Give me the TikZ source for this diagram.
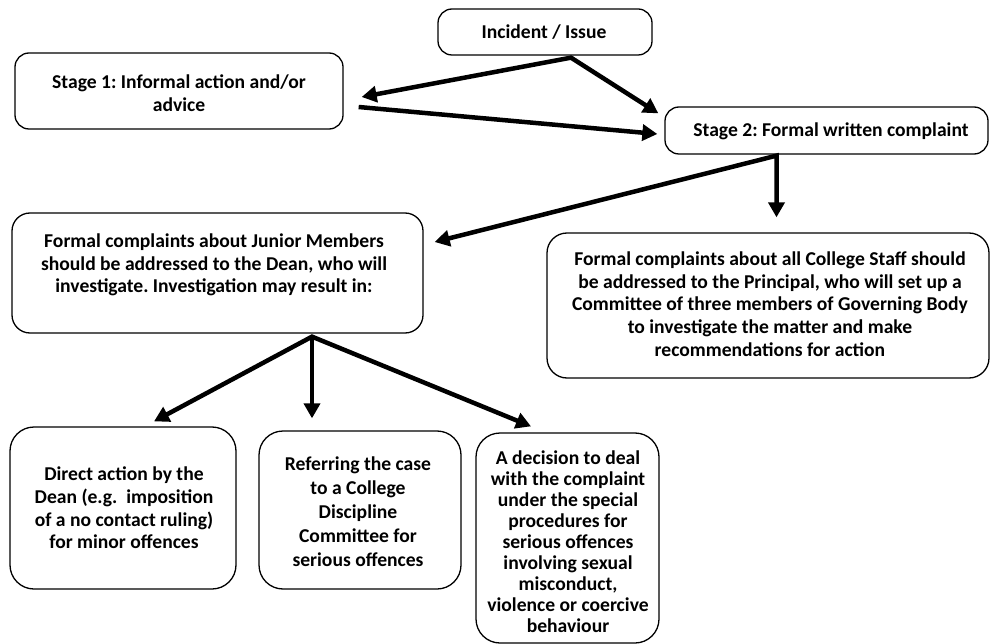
\documentclass[tikz,border=0pt]{standalone}
\usepackage{fontspec}
\setmainfont{Carlito}
\frenchspacing
\usetikzlibrary{arrows.meta,calc}
\begin{document}
\begin{tikzpicture}[x=1pt,y=-1pt,
  box/.style={draw, line width=1.3pt, rounded corners=14pt, inner sep=0pt},
  bbox/.style={box, rounded corners=24pt},
  txt/.style={font=\bfseries\fontsize{19.6}{22.7}\selectfont, align=center, inner sep=0pt},
  tipx/.tip={Triangle[length=15pt,width=16pt]},
  arr/.style={line width=4.5pt, -tipx},
  darr/.style={line width=4.5pt, tipx-tipx}]
\useasboundingbox (0,0) rectangle (990,644);
% boxes
\node[box, minimum width=214pt, minimum height=46pt] (inc) at (545,32) {};
\node[box, minimum width=328pt, minimum height=76pt] (s1) at (179,91) {};
\node[box, minimum width=323pt, minimum height=47pt] (s2) at (826.5,130.5) {};
\node[box, rounded corners=18pt, minimum width=411pt, minimum height=120pt] (jun) at (217.5,273) {};
\node[box, rounded corners=20pt, minimum width=442pt, minimum height=145pt] (staff) at (768,305.5) {};
\node[bbox, minimum width=226pt, minimum height=162pt] (direct) at (123,508) {};
\node[bbox, minimum width=202pt, minimum height=158pt] (refer) at (360,510) {};
\node[bbox, minimum width=183pt, minimum height=210pt] (decision) at (567.5,538) {};
% texts
\node[txt] (incT) at (544,32) {Incident / Issue};
\node[txt] (s1T) at (179,93) {Stage 1: Informal action and/or\\advice};
\node[txt] (s2T) at (831,131) {Stage 2: Formal written complaint};
\node[txt] (junT) at (214,265) {Formal complaints about Junior Members\\should be addressed to the Dean, who will\\investigate. Investigation may result in:};
\node[txt] (staffT) at (770,304) {Formal complaints about all College Staff should\\be addressed to the Principal, who will set up a\\Committee of three members of Governing Body\\to investigate the matter and make\\recommendations for action};
\node[txt] (directT) at (124,508) {Direct action by the\\Dean (e.g.\ \ imposition\\of a no contact ruling)\\for minor offences};
\node[txt, font=\bfseries\fontsize{19.6}{24}\selectfont] (referT) at (358,512) {Referring the case\\to a College\\Discipline\\Committee for\\serious offences};
\node[txt, font=\bfseries\fontsize{19.6}{21}\selectfont] (decisionT) at (568,542) {A decision to deal\\with the complaint\\under the special\\procedures for\\serious offences\\involving sexual\\misconduct,\\violence or coercive\\behaviour};
% connectors
\draw[darr] ($(s1.east)+(18,6)$) -- ($(inc.south)+(26,2)$) -- ($(s2.north west)+(-6,7)$);
\draw[arr] ($(s1.east)+(15,16)$) -- ($(s2.west)+(-7,3.5)$);
\draw[darr] ($(jun.east)+(11,-31)$) -- ($(s2.south)+(-50,1)$) -- ($(staff.north)+(8.5,-15)$);
\draw[darr] ($(direct.north)+(31,-5)$) -- ($(jun.south)+(94.5,3)$) -- ($(decision.north)+(-36.5,-6)$);
\draw[arr] ($(jun.south)+(94.5,3)$) -- ($(refer.north)+(-48,-12)$);
\end{tikzpicture}
\end{document}
